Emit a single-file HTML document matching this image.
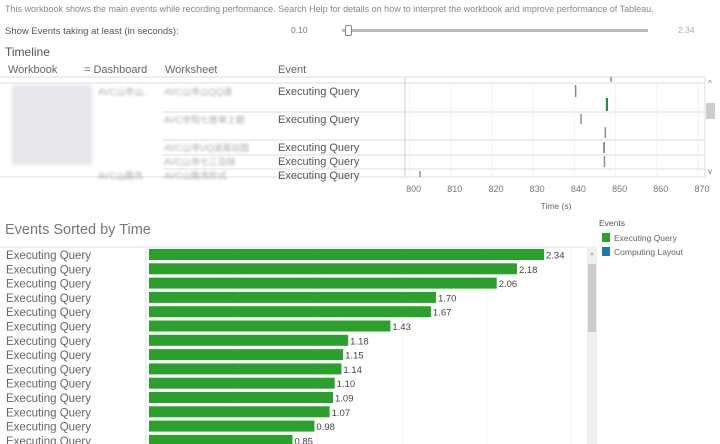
<!DOCTYPE html>
<html><head><meta charset="utf-8"><style>
body{margin:0;width:720px;height:444px;overflow:hidden;background:#fff;font-family:"Liberation Sans","Noto Sans CJK SC",sans-serif;position:relative}
.a{position:absolute;white-space:nowrap}
.blur{filter:blur(1.6px);color:#999}
</style></head><body>
<div class="a" style="left:5px;top:4px;font-size:9px;color:#888">This workbook shows the main events while recording performance. Search Help for details on how to interpret the workbook and improve performance of Tableau.</div>
<div class="a" style="left:5px;top:26px;font-size:9.5px;color:#555">Show Events taking at least (in seconds):</div>
<div class="a" style="left:291px;top:25px;font-size:8.5px;color:#777">0.10</div>
<div class="a" style="left:678px;top:25px;font-size:8.5px;color:#aaa">2.34</div>
<div class="a" style="left:342px;top:29px;width:306px;height:3px;background:#bbb"></div>
<div class="a" style="left:345px;top:25px;width:5px;height:9px;border:1px solid #888;background:#fff;border-radius:2px"></div>
<div class="a" style="left:5px;top:45px;font-size:12px;color:#555">Timeline</div>
<div class="a" style="left:8px;top:64px;font-size:11px;color:#666;height:12px;overflow:hidden">Workbook</div>
<div class="a" style="left:84px;top:64px;font-size:11px;color:#666;height:12px;overflow:hidden">= Dashboard</div>
<div class="a" style="left:165px;top:64px;font-size:11px;color:#666;height:12px;overflow:hidden">Worksheet</div>
<div class="a" style="left:278px;top:64px;font-size:11px;color:#666;height:12px;overflow:hidden">Event</div>
<div class="a blur" style="left:12px;top:85px;width:80px;height:80px;background:#e6e8ee"></div>
<svg class="a" style="left:0;top:0" width="720" height="444" id="tl"></svg>
<div class="a" style="left:5px;top:222px;font-size:14.5px;color:#777">Events Sorted by Time</div>
<div class="a" style="left:599px;top:218px;font-size:8.5px;color:#555">Events</div>
<div class="a" style="left:602px;top:233px;font-size:8.5px;color:#666"><span style="display:inline-block;width:8px;height:9px;background:#2ca02c;vertical-align:-1px;margin-right:4px"></span>Executing Query</div>
<div class="a" style="left:602px;top:247px;font-size:8.5px;color:#666"><span style="display:inline-block;width:8px;height:9px;background:#1f77b4;vertical-align:-1px;margin-right:4px"></span>Computing Layout</div>
<svg class="a" style="left:0;top:0" width="720" height="444" id="bars"></svg>
<script>
const tlTicks=[800,810,820,830,840,850,860,870];
const tlStarts=[848.9,840.3,847.8,841.6,847.5,847.2,847.3,802.5];
const tlColors=["#888","#888","#2e8b3e","#888","#888","#666","#888","#888"];
const tlRowY=[[77,82],[85,97],[98,111],[114,124],[127,138],[142,153],[156,167],[171,177]];
const tlEventRows=[["Executing Query",91],["Executing Query",119],["Executing Query",147],["Executing Query",161],["Executing Query",175]];
const barLabels=Array(14).fill("Executing Query");
const barValues=[2.34,2.18,2.06,1.70,1.67,1.43,1.18,1.15,1.14,1.10,1.09,1.07,0.98,0.85];
const NS="http://www.w3.org/2000/svg";
function mk(p,t,a){const e=document.createElementNS(NS,t);for(const k in a)e.setAttribute(k,a[k]);p.appendChild(e);return e;}
const tl=document.getElementById('tl');
const tx=t=>409.6+4.12*(t-800);
for(const y of [77,83,112,140,155,169,177]){const l=mk(tl,'line',{x1:y==112||y==140||y==155||y==169?163:0,x2:705,y1:y,y2:y,stroke:'#ddd'});

}
mk(tl,'line',{x1:405,x2:405,y1:77,y2:177,stroke:'#ccc'});
mk(tl,'line',{x1:705,x2:705,y1:77,y2:177,stroke:'#ddd'});
mk(tl,'rect',{x:706,y:103,width:9,height:16,fill:'#ccc'});
mk(tl,'text',{x:710,y:86,'font-size':8,fill:'#777','text-anchor':'middle'}).textContent='^';
mk(tl,'text',{x:710,y:174,'font-size':8,fill:'#777','text-anchor':'middle'}).textContent='v';
tlTicks.forEach(t=>{const g=mk(tl,'line',{x1:tx(t),x2:tx(t),y1:83,y2:177,stroke:'#f2f2f2'});


const s=mk(tl,'text',{x:tx(t)+4,y:192,'font-size':9,fill:'#777','text-anchor':'middle','font-family':'Liberation Sans'});s.textContent=t;

});
const ax=mk(tl,'text',{x:556,y:209,'font-size':8.5,fill:'#666','text-anchor':'middle'});ax.textContent='Time (s)';


tlStarts.forEach((t,i)=>{const m=mk(tl,'rect',{x:tx(t)-0.7,y:tlRowY[i][0],width:tlColors[i]=="#2e8b3e"?2.2:1.4,height:tlRowY[i][1]-tlRowY[i][0],fill:tlColors[i]});

});
tlEventRows.forEach(r=>{const s=mk(tl,'text',{x:278,y:r[1]+4,'font-size':11,fill:'#555'});s.textContent=r[0];

});
[[98,91,'AVC山寺山..'],[164,91,'AVC山寺山QQ通'],[164,119,'AVC寺阳七册单上额'],[164,147,'AVC山寺UQ送离站题'],[164,161,'AVC山寺七三及除'],[98,175,'AVC山路洗'],[164,175,'AVC山路洗形式']].forEach(b=>{const s=mk(tl,'text',{x:b[0],y:b[1]+4,'font-size':9,fill:'#aaa',style:'filter:blur(1.2px)'});s.textContent=b[2];

});
const bs=document.getElementById('bars');
const bx=v=>149+v*168.8;
const by=i=>249+i*14.3;
mk(bs,'line',{x1:0,x2:586,y1:247,y2:247,stroke:'#e4e4e4'});
mk(bs,'line',{x1:146,x2:146,y1:247,y2:444,stroke:'#e4e4e4'});
[0.5,1,1.5,2,2.5].forEach(v=>{const g=mk(bs,'line',{x1:bx(v),x2:bx(v),y1:247,y2:444,stroke:'#f3f3f3'});

});
mk(bs,'rect',{x:587,y:247,width:10,height:197,fill:'#f0f0f0'});
mk(bs,'rect',{x:588,y:264,width:8,height:68,fill:'#ccc'});
mk(bs,'text',{x:592,y:258,'font-size':7,fill:'#777','text-anchor':'middle'}).textContent='^';
barValues.forEach((v,i)=>{
const r=mk(bs,'rect',{x:149,y:by(i),width:bx(v)-149,height:11,fill:'#2ca02c'});


const t=mk(bs,'text',{x:bx(v)+2,y:by(i)+9.5,'font-size':9.5,fill:'#444'});t.textContent=v.toFixed(2);


const l=mk(bs,'text',{x:6,y:by(i)+10,'font-size':11.5,fill:'#666'});l.textContent=barLabels[i];

});
</script>
</body></html>
